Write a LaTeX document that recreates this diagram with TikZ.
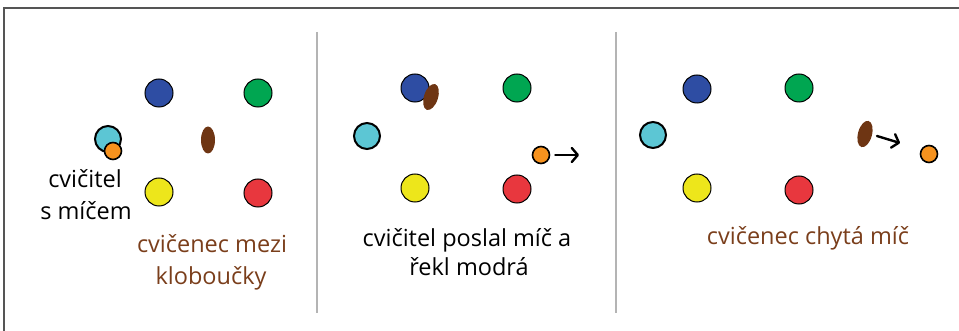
\documentclass[tikz,border=0pt]{standalone}
\usepackage{fontspec}
\setmainfont{Open Sans}
\usetikzlibrary{shapes.geometric,arrows.meta}
\definecolor{cblue}{HTML}{2E4DA3}
\definecolor{cgreen}{HTML}{00A651}
\definecolor{cyellow}{HTML}{EDE61B}
\definecolor{cred}{HTML}{E8373E}
\definecolor{ccyan}{HTML}{5CC6D4}
\definecolor{corange}{HTML}{F6921E}
\definecolor{cbrown}{HTML}{6E3513}
\definecolor{tbrown}{HTML}{7A3E1B}
\definecolor{framegray}{HTML}{555555}
\definecolor{divgray}{HTML}{B4B4B4}
\tikzset{
  hat/.style={circle, draw=black, line width=1pt, minimum size=28pt, inner sep=0pt},
  coach/.style={circle, draw=black, line width=2pt, fill=ccyan, minimum size=26pt, inner sep=0pt},
  ball/.style={circle, draw=black, line width=1.6pt, fill=corange, minimum size=17pt, inner sep=0pt},
  pupil/.style={ellipse, fill=cbrown, minimum width=14pt, minimum height=27pt, inner sep=0pt},
  lbl/.style={font=\fontsize{23.5}{28}\selectfont, anchor=base, inner sep=0pt},
  mv/.style={line width=2.4pt, line cap=round, -{Straight Barb[length=6pt,width=14pt,round]}},
}
\begin{document}
\begin{tikzpicture}[x=1pt,y=-1pt]
\useasboundingbox (0,0) rectangle (959,331);
% frame and dividers
\draw[framegray, line width=2pt] (4,335) -- (4,8) -- (963,8);
\draw[divgray, line width=1.5pt] (317,32) -- (317,313);
\draw[divgray, line width=1.5pt] (616,32) -- (616,313);

% ---------- panel 1 ----------
\node[hat, fill=cblue]   (b1) at (159,93) {};
\node[hat, fill=cgreen]  (g1) at (258,93) {};
\node[hat, fill=cyellow] (y1) at (159,192) {};
\node[hat, fill=cred]    (r1) at (258,193) {};
\node[coach] (c1) at (108,139) {};
\node[ball]  (o1) at (113,151) {};
\node[pupil] (p1) at (208,140) {};
\node[lbl] (t1a) at (85,188) {cvičitel};
\node[lbl] (t1b) at (86,220) {s míčem};
\node[lbl, text=tbrown] (t1c) at (212,253) {cvičenec mezi};
\node[lbl, text=tbrown] (t1d) at (211,285) {kloboučky};

% ---------- panel 2 ----------
\node[hat, fill=cblue]   (b2) at (415,88) {};
\node[hat, fill=cgreen]  (g2) at (517,88) {};
\node[hat, fill=cyellow] (y2) at (415,188) {};
\node[hat, fill=cred]    (r2) at (517,189) {};
\node[pupil, rotate=-18] (p2) at (431,97) {};
\node[coach] (c2) at (367,136) {};
\node[ball]  (o2) at (541,155) {};
\coordinate (a2) at (579,155);
\draw[mv] ([xshift=5pt]o2.east) -- (a2);
\node[lbl] (t2a) at (467,247) {cvičitel poslal míč a};
\node[lbl] (t2b) at (469,276) {řekl modrá};

% ---------- panel 3 ----------
\node[hat, fill=cblue]   (b3) at (697,89) {};
\node[hat, fill=cgreen]  (g3) at (799,88) {};
\node[hat, fill=cyellow] (y3) at (697,188) {};
\node[hat, fill=cred]    (r3) at (799,190) {};
\node[coach] (c3) at (653,135) {};
\node[pupil, rotate=-15] (p3) at (865,134) {};
\node[ball]  (o3) at (929,154) {};
\coordinate (a3s) at (877,136);
\coordinate (a3) at (900,143);
\draw[mv] (a3s) -- (a3);
\node[lbl, text=tbrown] (t3a) at (808,245) {cvičenec chytá míč};
\end{tikzpicture}
\end{document}
